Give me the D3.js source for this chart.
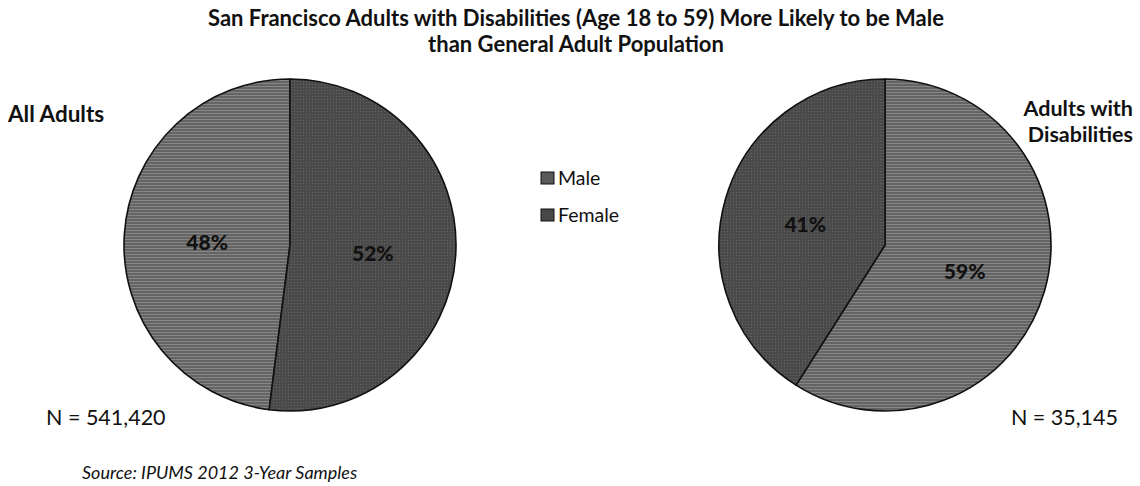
<!DOCTYPE html>
<html>
<head>
<meta charset="utf-8">
<script src="https://cdn.jsdelivr.net/npm/d3@7"></script>
<style>
  html, body { margin: 0; padding: 0; background: #fff; }
  svg { display: block; font-family: Lato, "Open Sans", sans-serif; }
</style>
</head>
<body>
<svg id="chart" width="1140" height="486"></svg>
<script>
// Series and values
const categories = ["Male", "Female"];
const allAdults = [48, 52];            // percent of all adults
const disabledAdults = [59, 41];       // percent of adults with disabilities
const groupTitles = [["All Adults"], ["Adults with", "Disabilities"]];
const sampleSizes = ["N = 541,420", "N = 35,145"];
const titleLines = [
  "San Francisco Adults with Disabilities (Age 18 to 59) More Likely to be Male",
  "than General Adult Population"
];
const sourceNote = "Source: IPUMS 2012 3-Year Samples";

const svg = d3.select("#chart");
const defs = svg.append("defs");

// Horizontal-stripe fill for Male, fine dark texture for Female
const pm = defs.append("pattern").attr("id", "fill-male")
  .attr("patternUnits", "userSpaceOnUse").attr("width", 4).attr("height", 3);
pm.append("rect").attr("width", 4).attr("height", 3).attr("fill", "#646464");
pm.append("rect").attr("y", 0).attr("width", 4).attr("height", 1).attr("fill", "#868686");

const pf = defs.append("pattern").attr("id", "fill-female")
  .attr("patternUnits", "userSpaceOnUse").attr("width", 3).attr("height", 3);
pf.append("rect").attr("width", 3).attr("height", 3).attr("fill", "#4a4a4a");
pf.append("rect").attr("x", 1).attr("y", 1).attr("width", 1).attr("height", 1).attr("fill", "#666");

const color = d3.scaleOrdinal().domain(categories)
  .range(["url(#fill-male)", "url(#fill-female)"]);
const swatch = d3.scaleOrdinal().domain(categories).range(["#5a5a5a", "#484848"]);

// Title
svg.append("g").selectAll("text").data(titleLines).join("text")
  .attr("x", 576).attr("y", (d, i) => 26 + i * 26)
  .attr("text-anchor", "middle")
  .attr("font-weight", "bold").attr("font-size", 22).attr("fill", "#111")
  .text(d => d);

const radius = 166;
const arc = d3.arc().innerRadius(0).outerRadius(radius);
const labelArc = d3.arc().innerRadius(radius * 0.5).outerRadius(radius * 0.5);

// Each pie: centre, values, and the angle where the Male slice begins
const pies = [
  { cx: 290, cy: 245, values: allAdults, male0: 2 * Math.PI * allAdults[1] / 100 },
  { cx: 885, cy: 245, values: disabledAdults, male0: 0 }
];

pies.forEach((p) => {
  const rows = categories.map((c, i) => ({ cat: c, value: p.values[i] }));
  const pie = d3.pie().sort(null).value(d => d.value)
    .startAngle(p.male0).endAngle(p.male0 + 2 * Math.PI);
  const g = svg.append("g").attr("transform", `translate(${p.cx},${p.cy})`);
  const slices = pie(rows);
  g.selectAll("path").data(slices).join("path")
    .attr("d", arc)
    .attr("fill", d => color(d.data.cat))
    .attr("stroke", "#111").attr("stroke-width", 1.6)
    .attr("stroke-linejoin", "round");
  g.selectAll("text").data(slices).join("text")
    .attr("transform", d => `translate(${labelArc.centroid(d)})`)
    .attr("text-anchor", "middle").attr("dy", "0.5em")
    .attr("font-weight", "900").attr("font-size", 21).attr("fill", "#111")
    .text(d => d.data.value + "%");
});

// Group headings
svg.append("text").attr("x", 8).attr("y", 122)
  .attr("font-weight", "bold").attr("font-size", 22.5).attr("fill", "#111")
  .text(groupTitles[0][0]);
svg.append("g").selectAll("text").data(groupTitles[1]).join("text")
  .attr("x", 1133).attr("y", (d, i) => 116 + i * 26)
  .attr("text-anchor", "end")
  .attr("font-weight", "bold").attr("font-size", 21.5).attr("fill", "#111")
  .text(d => d);

// Sample sizes
svg.append("text").attr("x", 46).attr("y", 425)
  .attr("font-size", 21.5).attr("fill", "#111").text(sampleSizes[0]);
svg.append("text").attr("x", 1118).attr("y", 425).attr("text-anchor", "end")
  .attr("font-size", 21.5).attr("fill", "#111").text(sampleSizes[1]);

// Legend
const legend = svg.append("g").attr("transform", "translate(541,172)");
const li = legend.selectAll("g").data(categories).join("g")
  .attr("transform", (d, i) => `translate(0,${i * 37})`);
li.append("rect").attr("width", 13).attr("height", 12)
  .attr("fill", d => swatch(d)).attr("stroke", "#111").attr("stroke-width", 1);
li.append("text").attr("x", 17).attr("y", 13)
  .attr("font-size", 19.5).attr("fill", "#111").text(d => d);

// Source note
svg.append("text").attr("x", 82).attr("y", 479)
  .attr("font-style", "italic").attr("font-size", 18).attr("fill", "#111")
  .text(sourceNote);
</script>
</body>
</html>
